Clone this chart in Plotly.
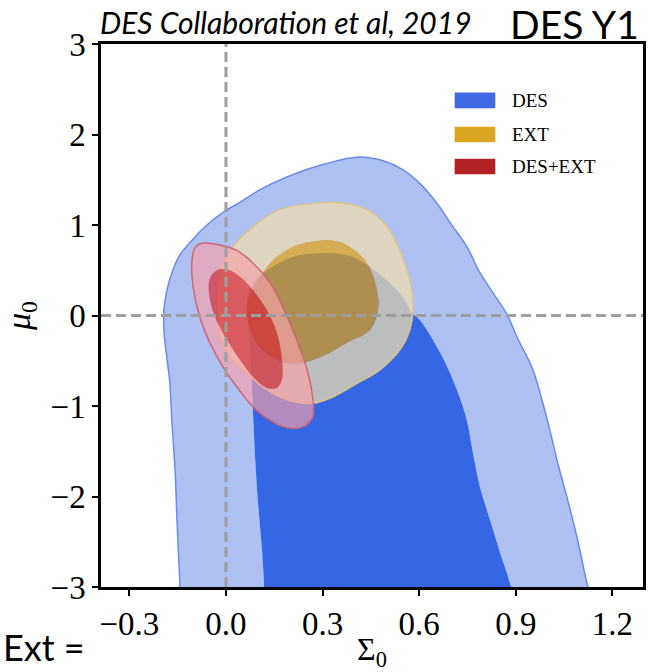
import plotly.graph_objects as go

# ---------------- data ----------------
x_ticks = [-0.3, 0.0, 0.3, 0.6, 0.9, 1.2]
y_ticks = [-3, -2, -1, 0, 1, 2, 3]

des_outer_x = [-0.140, -0.143, -0.152, -0.158, -0.168, -0.174, -0.184, -0.192, -0.193, -0.185,
               -0.168, -0.143, -0.106, -0.059, -0.009, 0.043, 0.106, 0.189, 0.283, 0.407,
               0.488, 0.550, 0.602, 0.655, 0.705, 0.748, 0.789, 0.829, 0.873, 0.904,
               0.953, 0.984, 1.006, 1.028, 1.059, 1.090, 1.121, 1.134]
des_outer_y = [-3.15, -2.96, -2.26, -1.71, -1.16, -0.75, -0.45, -0.20, 0.05, 0.25,
               0.47, 0.67, 0.83, 1.00, 1.14, 1.25, 1.39, 1.53, 1.65, 1.75,
               1.71, 1.61, 1.46, 1.24, 0.98, 0.76, 0.47, 0.25, 0.01, -0.24,
               -0.60, -0.97, -1.27, -1.60, -2.01, -2.45, -2.96, -3.15]

des_inner_x = [0.065, 0.081, 0.127, 0.208, 0.301, 0.370, 0.416, 0.509, 0.550, 0.578,
               0.602, 0.665, 0.717, 0.748, 0.767, 0.789, 0.820, 0.851, 0.882, 0.891,
               0.120, 0.118, 0.112, 0.098, 0.088, 0.082, 0.075, 0.068]
des_inner_y = [0.17, 0.34, 0.50, 0.65, 0.69, 0.67, 0.61, 0.36, 0.20, 0.03,
               -0.05, -0.41, -0.82, -1.16, -1.52, -1.90, -2.26, -2.62, -2.96, -3.15,
               -3.15, -2.96, -2.60, -2.00, -1.40, -0.90, -0.40, -0.10]

ext_outer_x = [0.283, 0.363, 0.438, 0.500, 0.540, 0.571, 0.581, 0.571, 0.540, 0.478,
               0.407, 0.332, 0.270, 0.189, 0.127, 0.065, 0.012, -0.019, -0.028, -0.025,
               -0.009, 0.022, 0.084, 0.168]
ext_outer_y = [1.24, 1.24, 1.17, 0.98, 0.72, 0.39, 0.06, -0.16, -0.38, -0.60,
               -0.75, -0.90, -0.97, -0.93, -0.82, -0.64, -0.46, -0.24, 0.06, 0.36,
               0.58, 0.76, 0.98, 1.17]

ext_inner_x = [0.292, 0.345, 0.385, 0.438, 0.469, 0.472, 0.447, 0.376, 0.292, 0.220,
               0.158, 0.106, 0.075, 0.065, 0.075, 0.106, 0.146, 0.208]
ext_inner_y = [0.83, 0.82, 0.76, 0.58, 0.28, 0.06, -0.16, -0.30, -0.46, -0.53,
               -0.49, -0.35, -0.16, 0.06, 0.25, 0.43, 0.61, 0.76]

comb_outer_x = [-0.071, -0.019, 0.034, 0.084, 0.137, 0.177, 0.220, 0.252, 0.270, 0.270,
                0.239, 0.189, 0.137, 0.084, 0.034, -0.009, -0.050, -0.081, -0.102, -0.106,
                -0.096]
comb_outer_y = [0.80, 0.78, 0.72, 0.58, 0.36, 0.09, -0.27, -0.60, -0.93, -1.12,
                -1.23, -1.24, -1.16, -1.01, -0.79, -0.57, -0.30, -0.02, 0.32, 0.58,
                0.75]

comb_inner_x = [-0.028, 0.003, 0.043, 0.084, 0.127, 0.158, 0.174, 0.174, 0.158, 0.127,
                0.084, 0.043, 0.003, -0.034, -0.053, -0.050]
comb_inner_y = [0.50, 0.51, 0.43, 0.28, 0.06, -0.19, -0.49, -0.71, -0.80, -0.80,
                -0.68, -0.49, -0.27, -0.02, 0.25, 0.41]

legend_labels = ["DES", "EXT", "DES+EXT"]
legend_colors = ["#4169E1", "#DAA520", "#B22222"]

# ---------------- helpers ----------------
def area(xs, ys):
    n = len(xs)
    return sum(xs[i] * ys[(i + 1) % n] - xs[(i + 1) % n] * ys[i] for i in range(n))

def closed(xs, ys):
    return list(xs) + [xs[0]], list(ys) + [ys[0]]

def ring(ox, oy, ix, iy):
    if (area(ox, oy) > 0) == (area(ix, iy) > 0):
        ix, iy = ix[::-1], iy[::-1]
    cx, cy = closed(ox, oy)
    hx, hy = closed(ix, iy)
    return cx + [None] + hx, cy + [None] + hy

fig = go.Figure()

def add_fill(xs, ys, color):
    fig.add_trace(go.Scatter(x=xs, y=ys, mode="lines", fill="toself", fillcolor=color,
                             line=dict(width=0, color=color, shape="spline", smoothing=1.0),
                             hoverinfo="skip", showlegend=False, connectgaps=False))

def add_edge(xs, ys, color, width):
    cx, cy = closed(xs, ys)
    fig.add_trace(go.Scatter(x=cx, y=cy, mode="lines",
                             line=dict(width=width, color=color, shape="spline", smoothing=1.0),
                             hoverinfo="skip", showlegend=False))

# DES
rx, ry = ring(des_outer_x, des_outer_y, des_inner_x, des_inner_y)
add_fill(rx, ry, "rgb(175,193,243)")
cx, cy = closed(des_inner_x, des_inner_y)
add_fill(cx, cy, "rgb(53,103,229)")
add_edge(des_outer_x, des_outer_y, "rgb(105,140,235)", 1.5)

# EXT
rx, ry = ring(ext_outer_x, ext_outer_y, ext_inner_x, ext_inner_y)
add_fill(rx, ry, "rgba(239,221,174,0.73)")
cx, cy = closed(ext_inner_x, ext_inner_y)
add_fill(cx, cy, "rgba(231,161,13,0.69)")
add_edge(ext_outer_x, ext_outer_y, "rgba(228,195,120,0.9)", 1.5)

# DES+EXT
rx, ry = ring(comb_outer_x, comb_outer_y, comb_inner_x, comb_inner_y)
add_fill(rx, ry, "rgba(248,160,169,0.65)")
cx, cy = closed(comb_inner_x, comb_inner_y)
add_fill(cx, cy, "rgba(215,45,55,0.72)")
add_edge(comb_outer_x, comb_outer_y, "rgba(205,95,115,0.9)", 1.5)

# reference lines
ref_x, ref_y = 0.0, 0.0
dash_style = dict(color="rgb(158,158,158)", width=3, dash="10px,5px")
fig.add_shape(type="line", xref="x", yref="paper", x0=ref_x, x1=ref_x, y0=0, y1=1,
              line=dash_style, layer="above")
fig.add_shape(type="line", xref="paper", yref="y", x0=0, x1=1, y0=ref_y, y1=ref_y,
              line=dash_style, layer="above")

# legend (manual, as in the reference)
leg_x0, leg_x1, leg_tx = 0.653, 0.727, 0.755
leg_rows = [(0.882, 0.910), (0.8195, 0.847), (0.7606, 0.788)]
for (y0, y1), lab, col in zip(leg_rows, legend_labels, legend_colors):
    fig.add_shape(type="rect", xref="paper", yref="paper", x0=leg_x0, x1=leg_x1, y0=y0, y1=y1,
                  fillcolor=col, line=dict(color=col, width=0.5), layer="above")
    fig.add_annotation(xref="paper", yref="paper", x=leg_tx, y=(y0 + y1) / 2, text=lab,
                       showarrow=False, xanchor="left", yanchor="middle",
                       font=dict(family="Liberation Serif", size=19, color="black"))

# header / footer texts
fig.add_annotation(xref="paper", yref="paper", x=-0.006, y=1.040, xanchor="left", yanchor="middle",
                   text="<i>DES Collaboration et al, 2019</i>", showarrow=False,
                   font=dict(family="Lato", size=30, color="black"))
fig.add_annotation(xref="paper", yref="paper", x=0.997, y=1.036, xanchor="right", yanchor="middle",
                   text="DES Y1", showarrow=False,
                   font=dict(family="Lato", size=39, color="black"))
fig.add_annotation(xref="paper", yref="paper", x=-0.185, y=-0.155, xanchor="left", yanchor="bottom",
                   text="Ext =", showarrow=False,
                   font=dict(family="Lato", size=36, color="black"))

axis_common = dict(showgrid=False, zeroline=False, showline=True, linecolor="black", linewidth=2.5,
                   mirror=True, ticks="outside", ticklen=6, tickwidth=1.5, tickcolor="black",
                   automargin=False,
                   tickfont=dict(family="Liberation Serif", size=33, color="black"))

fig.update_layout(
    width=649, height=672,
    margin=dict(l=101, r=6, t=44, b=85),
    plot_bgcolor="white", paper_bgcolor="white",
    showlegend=False,
    xaxis=dict(range=[-0.388, 1.295], tickvals=x_ticks,
               ticktext=[f"{v:.1f}".replace("-", "\u2212") for v in x_ticks],
               title=dict(text="\u03a3<sub>0</sub>", standoff=2,
                          font=dict(family="Liberation Serif", size=32, color="black")),
               **axis_common),
    yaxis=dict(range=[-3, 3], tickvals=y_ticks,
               ticktext=[str(v).replace("-", "\u2212") for v in y_ticks],
               title=dict(text="<i>\u03bc</i><sub>0</sub>", standoff=14,
                          font=dict(family="Liberation Serif", size=34, color="black")),
               **axis_common),
)

# remove the browser's default 8 px page margin so the figure fills the window exactly
fig.write_html("out.html", config={"displayModeBar": False},
               post_script="document.body.style.margin='0';")
